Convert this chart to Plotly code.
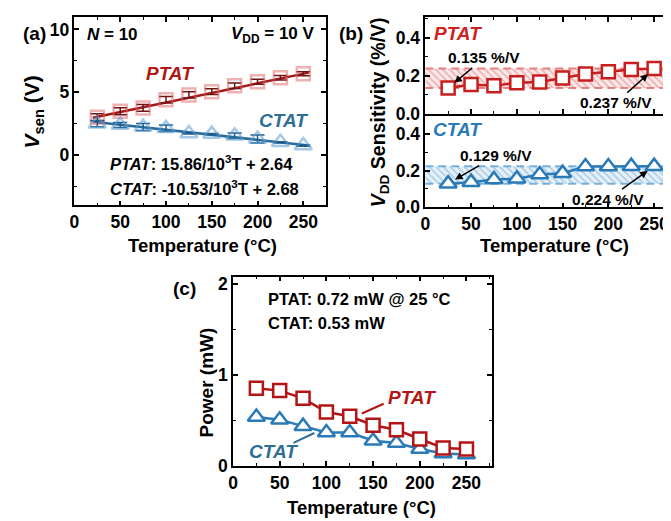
import plotly.graph_objects as go

# ---------------- data ----------------
temps = [25, 50, 75, 100, 125, 150, 175, 200, 225, 250]

# (a) sensing voltage (V)
vsen_ptat = [3.02, 3.49, 3.75, 4.40, 4.79, 5.05, 5.52, 5.83, 6.15, 6.48]
vsen_ptat_err = [0.28, 0.27, 0.27, 0.26, 0.25, 0.22, 0.22, 0.2, 0.18, 0.16]
vsen_ctat = [2.50, 2.40, 2.24, 2.13, 1.72, 1.67, 1.54, 1.28, 1.02, 0.76]
vsen_ctat_err = [0.25, 0.2, 0.28, 0.26, 0.05, 0.05, 0.22, 0.32, 0.05, 0.05]
fit_T = [20, 256]
fit_ptat = [2.97, 6.56]
fit_ctat = [2.66, 0.77]

# (b) VDD sensitivity (%/V)
sens_ptat = [0.135, 0.153, 0.146, 0.163, 0.166, 0.187, 0.209, 0.221, 0.232, 0.237]
sens_ctat = [0.129, 0.137, 0.152, 0.155, 0.178, 0.186, 0.222, 0.222, 0.224, 0.224]
band_ptat = [0.135, 0.237]
band_ctat = [0.129, 0.224]
band_T = [0, 275]

# (c) power (mW)
pow_ptat = [0.855, 0.83, 0.745, 0.595, 0.548, 0.45, 0.40, 0.30, 0.20, 0.19]
pow_ctat = [0.54, 0.51, 0.44, 0.37, 0.37, 0.28, 0.255, 0.19, 0.14, 0.13]

# ---------------- styling ----------------
FONT = "Liberation Sans, Arial, sans-serif"
W, H = 671, 521
RED = "#C81E1E"
DRED = "#A51818"
BLUE = "#2A7AB8"
DBLUE = "#2A6A98"


def px(x):
    return x / W


def py(y):
    return 1 - y / H


fig = go.Figure()

# ---- (a) ----
fig.add_trace(go.Scatter(x=fit_T, y=fit_ptat, mode="lines", line=dict(color=DRED, width=2.5),
                         xaxis="x", yaxis="y", showlegend=False))
fig.add_trace(go.Scatter(x=fit_T, y=fit_ctat, mode="lines", line=dict(color=DBLUE, width=2.5),
                         xaxis="x", yaxis="y", showlegend=False))
fig.add_trace(go.Scatter(x=temps, y=vsen_ptat, mode="markers",
                         marker=dict(symbol="square-open", size=13, color="rgba(225,100,100,0.5)",
                                     line=dict(width=2.5)),
                         error_y=dict(type="data", array=vsen_ptat_err, color="#6E1515", thickness=1.5, width=7),
                         xaxis="x", yaxis="y", showlegend=False))
fig.add_trace(go.Scatter(x=temps, y=vsen_ctat, mode="markers",
                         marker=dict(symbol="triangle-up-open", size=15, color="rgba(90,155,210,0.55)",
                                     line=dict(width=2.5)),
                         error_y=dict(type="data", array=vsen_ctat_err, color="#1F5C8C", thickness=1.5, width=7),
                         xaxis="x", yaxis="y", showlegend=False))


# ---- (b) bands ----
def band(lohi, xa, ya, fg, bg, dashc):
    lo, hi = lohi
    fig.add_trace(go.Scatter(x=[band_T[0], band_T[1], band_T[1], band_T[0], band_T[0]],
                             y=[lo, lo, hi, hi, lo], mode="lines", fill="toself",
                             line=dict(width=0), fillcolor=bg,
                             fillpattern=dict(shape="\\", fgcolor=fg, bgcolor=bg, size=5, solidity=0.3),
                             xaxis=xa, yaxis=ya, showlegend=False, hoverinfo="skip"))
    for v in (lo, hi):
        fig.add_trace(go.Scatter(x=band_T, y=[v, v], mode="lines",
                                 line=dict(color=dashc, width=2, dash="8px,5px"),
                                 xaxis=xa, yaxis=ya, showlegend=False, hoverinfo="skip"))


band(band_ptat, "x2", "y2", "rgba(215,70,70,0.75)", "rgba(240,180,180,0.3)", "rgba(225,110,110,0.85)")
band(band_ctat, "x3", "y3", "rgba(60,140,200,0.75)", "rgba(170,205,235,0.3)", "rgba(100,165,215,0.85)")

fig.add_trace(go.Scatter(x=temps, y=sens_ptat, mode="lines+markers",
                         line=dict(color=RED, width=2.5),
                         marker=dict(symbol="square", size=13, color="white", line=dict(color=RED, width=2.5)),
                         xaxis="x2", yaxis="y2", showlegend=False))
fig.add_trace(go.Scatter(x=temps, y=sens_ctat, mode="lines+markers",
                         line=dict(color=BLUE, width=2.5),
                         marker=dict(symbol="triangle-up", size=15, color="white", line=dict(color=BLUE, width=2.5)),
                         xaxis="x3", yaxis="y3", showlegend=False))

# ---- (c) ----
fig.add_trace(go.Scatter(x=temps, y=pow_ctat, mode="lines+markers",
                         line=dict(color=BLUE, width=2.5),
                         marker=dict(symbol="triangle-up", size=15, color="white", line=dict(color=BLUE, width=2.5)),
                         xaxis="x4", yaxis="y4", showlegend=False))
fig.add_trace(go.Scatter(x=temps, y=pow_ptat, mode="lines+markers",
                         line=dict(color="#B41414", width=2.5),
                         marker=dict(symbol="square", size=13, color="white", line=dict(color="#B41414", width=2.5)),
                         xaxis="x4", yaxis="y4", showlegend=False))

# ---------------- axes ----------------
tickfont = dict(family=FONT, size=17.5, color="black", weight="bold")


def minor(d):
    return dict(ticks="inside", ticklen=3, tickwidth=1.2, tickcolor="black", dtick=d)


def axstyle(**kw):
    d = dict(showline=True, linecolor="black", linewidth=1.5, mirror="allticks",
             ticks="inside", ticklen=5, tickwidth=1.5, tickcolor="black",
             showgrid=False, zeroline=False, tickfont=tickfont)
    d.update(kw)
    return d


xr = [0, 275]
fig.update_layout(
    width=W, height=H, margin=dict(l=0, r=0, t=0, b=0),
    paper_bgcolor="white", plot_bgcolor="white",
    xaxis=axstyle(domain=[px(62), px(316)], range=xr, dtick=50, anchor="y", minor=minor(25)),
    yaxis=axstyle(domain=[py(200), py(7)], range=[-4, 11], tickvals=[0, 5, 10], anchor="x", minor=minor(2.5)),
    xaxis2=axstyle(domain=[px(416), px(670)], range=xr, dtick=50, anchor="y2", showticklabels=False,
                   minor=minor(25)),
    yaxis2=axstyle(domain=[py(106), py(7)], range=[0, 0.51], tickvals=[0, 0.2, 0.4], tickformat=".1f",
                   anchor="x2", minor=minor(0.1)),
    xaxis3=axstyle(domain=[px(416), px(670)], range=xr, dtick=50, anchor="y3", mirror=False, minor=minor(25)),
    yaxis3=axstyle(domain=[py(202), py(106)], range=[0, 0.51], tickvals=[0, 0.2, 0.4], tickformat=".1f",
                   anchor="x3", minor=minor(0.1)),
    xaxis4=axstyle(domain=[px(222), px(483)], range=[0, 277], dtick=50, anchor="y4", minor=minor(25)),
    yaxis4=axstyle(domain=[py(467), py(273)], range=[0, 2.08], tickvals=[0, 1, 2], anchor="x4", minor=minor(0.5)),
)

# ---------------- annotations ----------------
annots = []


def txt(x, y, text, size=16, color="black", angle=0, xanchor="center"):
    annots.append(dict(x=px(x), y=py(y), xref="paper", yref="paper", text=text, showarrow=False,
                       xanchor=xanchor, yanchor="middle", textangle=angle,
                       font=dict(family=FONT, size=size, color=color, weight="bold")))


# panel labels
txt(22, 24, "(a)", 19)
txt(341, 24, "(b)", 19)
txt(173, 285, "(c)", 19)

# (a)
txt(100, 25, "<i>N</i> = 10", 17)
txt(262, 26, "<i>V</i><sub>DD</sub> = 10 V", 17)
txt(158, 65, "<i>PTAT</i>", 19, "#B01818")
txt(273, 113, "<i>CTAT</i>", 19, "#2E6E96")
txt(190, 157, "<i>PTAT</i>: 15.86/10<sup>3</sup>T + 2.64", 16.5)
txt(193, 182, "<i>CTAT</i>: -10.53/10<sup>3</sup>T + 2.68", 16.5)
txt(20, 104, "<i>V</i><sub>sen</sub> (V)", 21, angle=-90)
txt(191, 241, "Temperature (°C)", 18.5)

# (b)
txt(449, 24, "<i>PTAT</i>", 19, "#D02020")
txt(449, 122, "<i>CTAT</i>", 19, "#2A7AB8")
txt(370, 105, "<i>V</i><sub>DD</sub> Sensitivity (%/V)", 19.5, angle=-90)
txt(546, 241, "Temperature (°C)", 18.5)


# arrows (b)
def arrow(xa, ya, x, y, ax, ay, text):
    annots.append(dict(x=x, y=y, xref=xa, yref=ya, ax=ax, ay=ay, axref="pixel", ayref="pixel",
                       text=text, showarrow=True, arrowhead=2, arrowsize=1, arrowwidth=1.5,
                       arrowcolor="black", standoff=8,
                       font=dict(family=FONT, size=15.5, color="black", weight="bold")))


arrow("x2", "y2", temps[0], sens_ptat[0], 36, -30, "0.135 %/V")
arrow("x2", "y2", temps[-1], sens_ptat[-1], -38, 34, "0.237 %/V")
arrow("x3", "y3", temps[0], sens_ctat[0], 48, -28, "0.129 %/V")
arrow("x3", "y3", temps[-1], sens_ctat[-1], -46, 33, "0.224 %/V")

# (c)
txt(255, 296, "PTAT: 0.72 mW @ 25 °C", 16.5, xanchor="left")
txt(255, 320, "CTAT: 0.53 mW", 16.5, xanchor="left")
txt(403, 397, "<i>PTAT</i>", 19, "#B41414")
txt(263, 452, "<i>CTAT</i>", 19, "#2E6E96")
txt(195, 381, "Power (mW)", 19, angle=-90)
txt(352, 509, "Temperature (°C)", 18.5)

fig.update_layout(annotations=annots)

# leader lines in (c)
fig.add_shape(type="line", xref="paper", yref="paper", x0=px(352), y0=py(413), x1=px(374), y1=py(403),
              line=dict(color="#B41414", width=2))
fig.add_shape(type="line", xref="paper", yref="paper", x0=px(283), y0=py(443), x1=px(304), y1=py(433),
              line=dict(color="#2E6E96", width=2))

fig.write_html("out.html")
